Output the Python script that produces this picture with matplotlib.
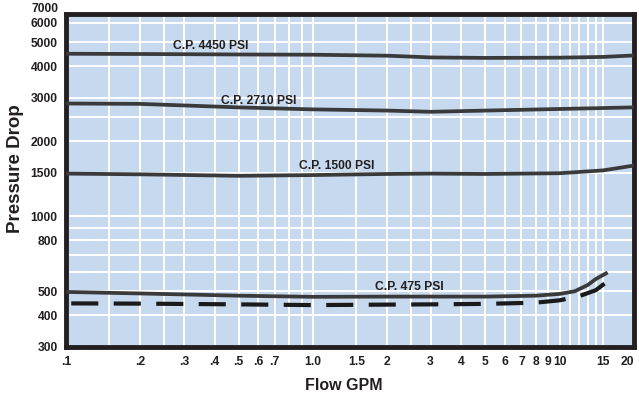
"""
Pressure drop vs. flow for several cracking-pressure settings.
"""
import matplotlib
matplotlib.use("Agg")
import matplotlib.pyplot as plt
from matplotlib.ticker import FixedLocator, FixedFormatter, NullLocator

FONT = ["Liberation Sans", "DejaVu Sans"]

# curves (flow GPM, pressure drop)
flow_4450 = [0.1, 0.2, 0.5, 1.0, 2.0, 3.0, 5.0, 10.0, 15.0, 20.0]
drop_4450 = [4500, 4490, 4470, 4460, 4420, 4350, 4330, 4340, 4370, 4430]

flow_2710 = [0.1, 0.2, 0.5, 1.0, 2.0, 3.0, 5.0, 10.0, 20.0]
drop_2710 = [2840, 2830, 2740, 2690, 2660, 2630, 2660, 2700, 2740]

flow_1500 = [0.1, 0.2, 0.5, 1.0, 2.0, 3.0, 5.0, 10.0, 15.0, 20.0]
drop_1500 = [1485, 1475, 1455, 1465, 1480, 1485, 1480, 1490, 1530, 1600]

flow_475 = [0.1, 0.2, 0.5, 1.0, 2.0, 3.0, 5.0, 8.0, 10.0, 11.5, 13.0, 14.0, 15.4]
drop_475 = [497, 490, 480, 475, 476, 476, 476, 480, 488, 500, 530, 560, 590]

flow_dash = [0.105, 0.2, 0.5, 1.0, 2.0, 3.0, 5.0, 8.0, 10.0, 12.0, 14.0, 15.5]
drop_dash = [447, 446, 443, 440, 442, 443, 445, 450, 460, 478, 505, 545]

labels = ["C.P. 4450 PSI", "C.P. 2710 PSI", "C.P. 1500 PSI", "C.P. 475 PSI"]
label_x = [0.385, 0.605, 1.25, 2.45]
label_y = [4850, 2900, 1590, 520]

x_ticks = [0.1, 0.2, 0.3, 0.4, 0.5, 0.6, 0.7, 1.0, 1.5, 2, 3, 4, 5, 6, 7, 8, 9, 10, 15, 20]
x_tick_labels = [".1", ".2", ".3", ".4", ".5", ".6", ".7", "1.0", "1.5", "2", "3", "4",
                 "5", "6", "7", "8", "9", "10", "15", "20"]
x_grid = [0.15, 0.2, 0.25, 0.3, 0.4, 0.5, 0.6, 0.7, 0.8, 0.9, 1.0, 1.5, 2, 2.5, 3, 4, 5,
          6, 7, 8, 9, 10, 11, 12, 13, 14, 15]

y_ticks = [300, 400, 500, 800, 1000, 1500, 2000, 3000, 4000, 5000, 6000]
y_grid = [400, 500, 600, 700, 800, 900, 1000, 1500, 2000, 2500, 3000, 4000, 5000, 6000]

BG = "#c6d9ef"
INK = "#231f20"
LINE = "#3a3a3a"

fig = plt.figure(figsize=(6.39, 4.05), dpi=100)
ax = fig.add_axes([66 / 639, 58.5 / 405, 568 / 639, 332.5 / 405])
ax.set_facecolor(BG)
ax.set_xscale("log")
ax.set_yscale("log")
ax.set_xlim(0.1, 20)
ax.set_ylim(300, 6500)

for gx in x_grid:
    ax.axvline(gx, color="white", lw=1.4, zorder=1)
for gy in y_grid:
    ax.axhline(gy, color="white", lw=1.4, zorder=1)

ax.plot(flow_4450, drop_4450, color=LINE, lw=2.7, zorder=3)
ax.plot(flow_2710, drop_2710, color=LINE, lw=2.7, zorder=3)
ax.plot(flow_1500, drop_1500, color=LINE, lw=2.7, zorder=3)
ax.plot(flow_475, drop_475, color=LINE, lw=2.7, zorder=3)
ax.plot(flow_dash, drop_dash, color="#1a1a1a", lw=3.0, dashes=(6.5, 3.7), zorder=3)

for text, lx, ly in zip(labels, label_x, label_y):
    ax.text(lx, ly, text, ha="center", va="center", fontsize=8.7, fontweight="bold",
            color=INK, family=FONT, zorder=4)

ax.xaxis.set_major_locator(FixedLocator(x_ticks))
ax.xaxis.set_major_formatter(FixedFormatter(x_tick_labels))
ax.xaxis.set_minor_locator(NullLocator())
ax.yaxis.set_major_locator(FixedLocator(y_ticks))
ax.yaxis.set_major_formatter(FixedFormatter([str(v) for v in y_ticks]))
ax.yaxis.set_minor_locator(NullLocator())
ax.tick_params(length=0, colors=INK, labelsize=8.7)
ax.tick_params(axis="y", pad=6)
ax.tick_params(axis="x", pad=7)
for lab in ax.get_xticklabels() + ax.get_yticklabels():
    lab.set_fontweight("bold")
    lab.set_family(FONT)
ax.get_xticklabels()[-1].set_horizontalalignment("right")

# the top label sits just above the frame
ax.text(-8 / 568, 6800, "7000", transform=ax.get_yaxis_transform(), ha="right", va="center",
        fontsize=8.7, fontweight="bold", color=INK, family=FONT, clip_on=False)

for side in ax.spines.values():
    side.set_color(INK)
    side.set_linewidth(3.5)

fig.text(344 / 639, 1 - 386 / 405, "Flow GPM", ha="center", va="center", fontsize=11.5,
         fontweight="bold", color=INK, family=FONT)
fig.text(16 / 639, 1 - 169 / 405, "Pressure Drop", ha="center", va="center", rotation=90,
         fontsize=13.5, fontweight="bold", color=INK, family=FONT)

fig.savefig("out.png", dpi=100)
